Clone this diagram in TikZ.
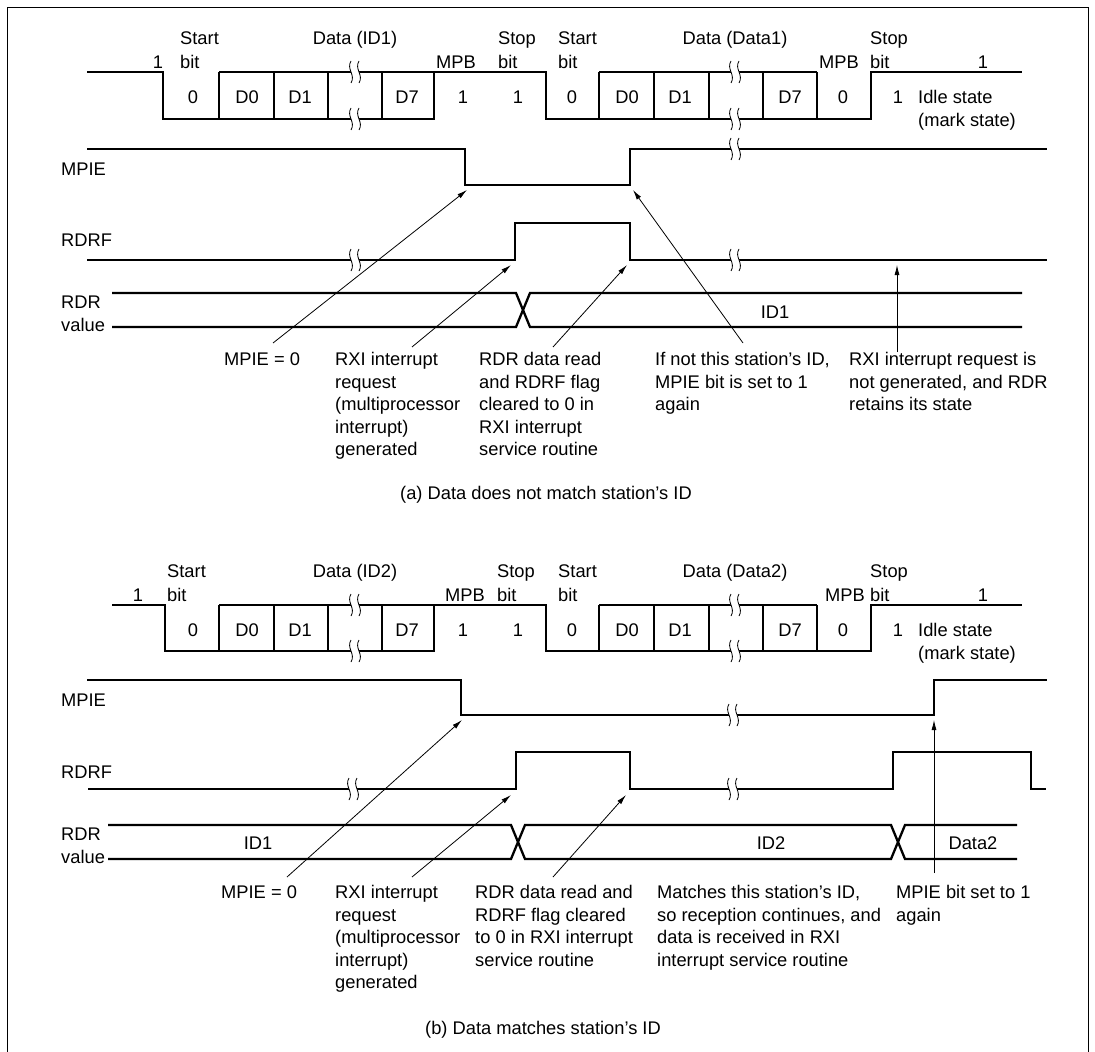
\documentclass[tikz,border=0pt]{standalone}
\usepackage{fontspec}
\setmainfont{Liberation Sans}
\usetikzlibrary{arrows.meta}
\newcommand{\lblfont}{\fontsize{18.3}{22.5}\selectfont}
\tikzset{
  wave/.style={line width=2.3pt,line join=miter},
  pointer/.style={-{Latex[length=10pt,width=5pt]},line width=0.8pt},
  framing/.style={line width=1pt},
  lbl/.style={inner sep=0pt,anchor=base,font=\lblfont},
  lbw/.style={inner sep=0pt,anchor=base west,font=\lblfont},
  note/.style={inner sep=0pt,anchor=north west,align=left,font=\lblfont}
}
% break mark on a signal line
\newcommand{\wavebreak}[2]{%
  \fill[white] (#1-4,#2-11) .. controls (#1-9,#2-3) and (#1+1,#2+3) .. (#1-4,#2+11)
    -- (#1+4,#2+11) .. controls (#1+9,#2+3) and (#1-1,#2-3) .. (#1+4,#2-11) -- cycle;
  \draw[line width=0.8pt] (#1-4,#2-11) .. controls (#1-9,#2-3) and (#1+1,#2+3) .. (#1-4,#2+11);
  \draw[line width=0.8pt] (#1+4,#2-11) .. controls (#1-1,#2-3) and (#1+9,#2+3) .. (#1+4,#2+11);
}

\begin{document}
\begin{tikzpicture}[x=1pt,y=-1pt]
  \useasboundingbox (0,0) rectangle (1095,1052);
  \draw[framing] (7,1052) -- (7,7) -- (1088,7) -- (1088,1052);

  %% (a) data does not match
  \draw[wave] (87,72) -| (163,119) -- (434,119) |- (546,72) -- (546,119) -- (871,119) |- (1022,72);
  \draw[wave] (219,72) -- (434,72) (599,72) -- (817,72);
  \foreach \x in {219,274,328,382,599,654,709,763,817}
    \draw[wave] (\x,72) -- (\x,119);
  \wavebreak{355}{72}\wavebreak{355}{119}\wavebreak{735}{72}\wavebreak{735}{119}

  \node[lbw] (startA) at (180,44.5) {Start};
  \node[lbl] (dataA) at (355,44.5) {Data (ID1)};
  \node[lbw] (stopA) at (498,44.5) {Stop};
  \node[lbw] (startA2) at (558,44.5) {Start};
  \node[lbl] (dataA2) at (735,44.5) {Data (Data1)};
  \node[lbw] (stopA2) at (870,44.5) {Stop};
  \node[lbl] (oneA) at (158,68.5) {1};
  \node[lbw] (bitA) at (180,68.5) {bit};
  \node[lbw] (mpbA) at (436,68.5) {MPB};
  \node[lbw] (bitA2) at (498,68.5) {bit};
  \node[lbw] (bitA3) at (558,68.5) {bit};
  \node[lbw] (mpbA2) at (819,68.5) {MPB};
  \node[lbw] (bitA4) at (870,68.5) {bit};
  \node[lbl] (oneA2) at (983,68.5) {1};
  \foreach \x/\t in {193/0,247/D0,300/D1,407/D7,463/1,518/1,572/0,627/D0,680/D1,790/D7,843/0,898/1}
    \node[lbl] (bA\x) at (\x,103.5) {\t};
  \node[note] (idleA) at (918,90.5) {Idle state\\(mark state)};

  \node[lbw] (mpieA) at (61,175.5) {MPIE};
  \draw[wave] (87,149) -- (465,149) -- (465,185) -- (630,185) -- (630,149) -- (1047,149);
  \wavebreak{735}{149}
  \node[lbw] (rdrfA) at (61,246.5) {RDRF};
  \draw[wave] (87,260) -- (515,260) -- (515,223) -- (630,223) -- (630,260) -- (1047,260);
  \wavebreak{355}{260}\wavebreak{735}{260}
  \node[note] (rdrA) at (61,296) {RDR\\value};
  \draw[wave] (112,293) -- (516,293) -- (530,327) -- (1022,327);
  \draw[wave] (112,327) -- (516,327) -- (530,293) -- (1022,293);
  \node[lbl] (id1A) at (775,318.5) {ID1};

  \node[note] (n1A) at (224,352.5) {MPIE = 0};
  \node[note] (n2A) at (335,352.5) {RXI interrupt\\request\\(multiprocessor\\interrupt)\\generated};
  \node[note] (n3A) at (479,352.5) {RDR data read\\and RDRF flag\\cleared to 0 in\\RXI interrupt\\service routine};
  \node[note] (n4A) at (655,352.5) {If not this station’s ID,\\MPIE bit is set to 1\\again};
  \node[note] (n5A) at (849,352.5) {RXI interrupt request is\\not generated, and RDR\\retains its state};

  \coordinate (s1A) at (273,343); \coordinate (t1A) at (467,190);
  \coordinate (s2A) at (412,347); \coordinate (t2A) at (511,265);
  \coordinate (s3A) at (553,347); \coordinate (t3A) at (627,265);
  \coordinate (s4A) at (743,343); \coordinate (t4A) at (633,190);
  \coordinate (s5A) at (897,352); \coordinate (t5A) at (897,265);
  \foreach \i in {1,...,5}
    \draw[pointer] (s\i A) -- (t\i A);

  \node[lbl] (capA) at (546,499.5) {(a) Data does not match station’s ID};

  %% (b) data matches
  \draw[wave] (112,605) -| (165,651) -- (434,651) |- (546,605) -- (546,651) -- (871,651) |- (1022,605);
  \draw[wave] (219,605) -- (434,605) (599,605) -- (817,605);
  \foreach \x in {219,274,328,382,599,654,709,763,817}
    \draw[wave] (\x,605) -- (\x,651);
  \wavebreak{355}{605}\wavebreak{355}{651}\wavebreak{735}{605}\wavebreak{735}{651}

  \node[lbw] (startB) at (167,577.5) {Start};
  \node[lbl] (dataB) at (355,577.5) {Data (ID2)};
  \node[lbw] (stopB) at (497,577.5) {Stop};
  \node[lbw] (startB2) at (558,577.5) {Start};
  \node[lbl] (dataB2) at (735,577.5) {Data (Data2)};
  \node[lbw] (stopB2) at (870,577.5) {Stop};
  \node[lbl] (oneB) at (138,601.5) {1};
  \node[lbw] (bitB) at (167,601.5) {bit};
  \node[lbw] (mpbB) at (445,601.5) {MPB};
  \node[lbw] (bitB2) at (497,601.5) {bit};
  \node[lbw] (bitB3) at (558,601.5) {bit};
  \node[lbw] (mpbB2) at (825,601.5) {MPB};
  \node[lbw] (bitB4) at (870,601.5) {bit};
  \node[lbl] (oneB2) at (983,601.5) {1};
  \foreach \x/\t in {193/0,247/D0,300/D1,407/D7,463/1,518/1,572/0,627/D0,680/D1,790/D7,843/0,898/1}
    \node[lbl] (bB\x) at (\x,636.5) {\t};
  \node[note] (idleB) at (918,623.5) {Idle state\\(mark state)};

  \node[lbw] (mpieB) at (61,706.5) {MPIE};
  \draw[wave] (87,680) -- (461,680) -- (461,715) -- (934,715) -- (934,680) -- (1047,680);
  \wavebreak{733}{715}
  \node[lbw] (rdrfB) at (61,778.5) {RDRF};
  \draw[wave] (88,789) -- (516,789) -- (516,752) -- (630,752) -- (630,789) -- (893,789)
    -- (893,752) -- (1031,752) -- (1031,789) -- (1046,789);
  \wavebreak{353}{789}\wavebreak{733}{789}
  \node[note] (rdrB) at (61,828) {RDR\\value};
  \draw[wave] (108,825) -- (511,825) -- (525,859) -- (891,859) -- (905,825) -- (1017,825);
  \draw[wave] (108,859) -- (511,859) -- (525,825) -- (891,825) -- (905,859) -- (1017,859);
  \node[lbl] (id1B) at (258,849.5) {ID1};
  \node[lbl] (id2B) at (771,849.5) {ID2};
  \node[lbl] (data2B) at (973,849.5) {Data2};

  \node[note] (n1B) at (221,885.5) {MPIE = 0};
  \node[note] (n2B) at (335,885.5) {RXI interrupt\\request\\(multiprocessor\\interrupt)\\generated};
  \node[note] (n3B) at (475,885.5) {RDR data read and\\RDRF flag cleared\\to 0 in RXI interrupt\\service routine};
  \node[note] (n4B) at (657,885.5) {Matches this station’s ID,\\so reception continues, and\\data is received in RXI\\interrupt service routine};
  \node[note] (n5B) at (896,885.5) {MPIE bit set to 1\\again};

  \coordinate (s1B) at (287,877); \coordinate (t1B) at (462,720);
  \coordinate (s2B) at (412,877); \coordinate (t2B) at (511,795);
  \coordinate (s3B) at (553,877); \coordinate (t3B) at (626,795);
  \coordinate (s4B) at (934,873); \coordinate (t4B) at (934,720);
  \foreach \i in {1,...,4}
    \draw[pointer] (s\i B) -- (t\i B);

  \node[lbl] (capB) at (543,1034.5) {(b) Data matches station’s ID};
\end{tikzpicture}
\end{document}
